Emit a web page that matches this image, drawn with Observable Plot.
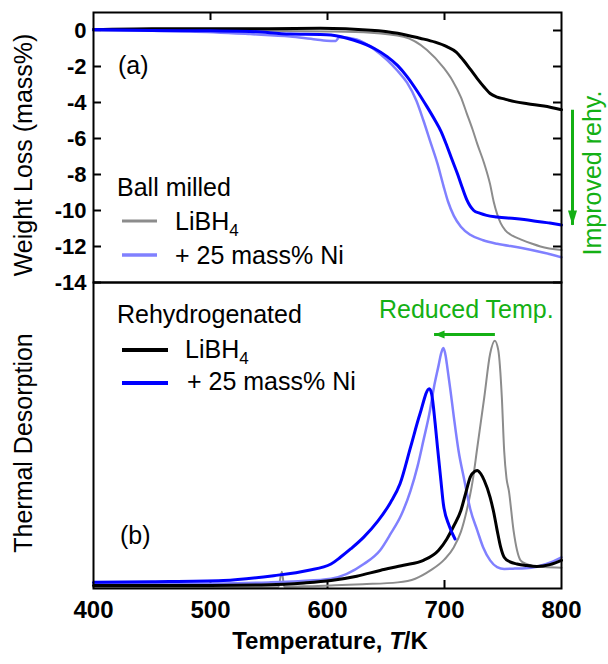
<!DOCTYPE html>
<html><head><meta charset="utf-8">
<script src="https://cdn.jsdelivr.net/npm/d3@7"></script>
<script src="https://cdn.jsdelivr.net/npm/@observablehq/plot@0.6"></script>
<style>
html,body{margin:0;padding:0;background:#fff;}
#chart{position:relative;width:608px;height:664px;background:#fff;}
#chart svg{display:block;overflow:visible;}
</style></head><body><div id="chart"></div>
<script>
const FONT = '"Liberation Sans", Arial, Helvetica, sans-serif';

// ---------- ticks / labels ----------
const xTickValues = [400, 500, 600, 700, 800];
const xInnerTicks = [500, 600, 700];
const tgTickValues = [0, -2, -4, -6, -8, -10, -12, -14];
const xTitle = ["Temperature, ", "T", "/K"];
const tgTitle = "Weight Loss (mass%)";
const tdTitle = "Thermal Desorption";
const legendA = {title: "Ball milled", items: ["LiBH", "+ 25 mass% Ni"]};
const legendB = {title: "Rehydrogenated", items: ["LiBH", "+ 25 mass% Ni"]};
const annotationTexts = {rehy: "Improved rehy.", temp: "Reduced Temp."};

// ---------- (a) TG weight loss, [T (K), mass%] ----------
const tgBallMilledLiBH4 = [[400,0],[450,0],[500,0],[550,-0.02],[600,-0.05],[637,-0.12],[665,-0.35],[685,-1.08],[699,-2.05],[707,-2.8],[714,-3.7],[719,-4.6],[724,-5.5],[728,-6.3],[734,-7.4],[739,-8.55],[742,-9.5],[745,-10.2],[748,-10.7],[752,-11.1],[758,-11.4],[765,-11.6],[775,-11.85],[782,-12.0],[800,-12.2]];
const tgBallMilledNi = [[400,0],[450,-0.02],[483,-0.05],[534,-0.2],[568,-0.33],[590,-0.5],[603,-0.58],[607,-0.58],[610,-0.38],[625,-0.5],[640,-1.05],[651,-1.64],[660,-2.25],[668,-2.9],[676,-3.9],[682,-5.0],[688,-6.2],[694,-7.4],[699,-8.6],[703,-9.5],[708,-10.3],[714,-10.9],[722,-11.35],[733,-11.65],[745,-11.85],[765,-12.07],[785,-12.35],[800,-12.6]];
const tgRehyLiBH4 = [[400,0.05],[450,0.1],[500,0.1],[550,0.1],[594,0.12],[637,0.02],[660,-0.15],[679,-0.43],[692,-0.65],[702,-0.9],[710,-1.2],[716,-1.64],[722,-2.15],[728,-2.67],[734,-3.15],[739,-3.5],[745,-3.7],[751,-3.8],[760,-3.95],[771,-4.07],[785,-4.2],[800,-4.4]];
const tgRehyNi = [[400,0.05],[450,0],[500,-0.02],[534,-0.05],[568,-0.2],[594,-0.22],[603,-0.25],[622,-0.53],[640,-1.0],[651,-1.45],[660,-1.95],[668,-2.56],[677,-3.4],[685,-4.23],[692,-5.0],[697,-5.6],[702,-6.4],[706,-7.1],[711,-7.95],[715,-8.7],[719,-9.4],[725,-10.0],[730,-10.15],[736,-10.27],[745,-10.36],[760,-10.45],[774,-10.55],[790,-10.7],[800,-10.8]];

// ---------- (b) thermal desorption, [T (K), a.u.] ----------
const tdBallMilledLiBH4 = [[400,0.3],[450,0.3],[500,0.3],[550,0.4],[558,0.5],[561,5.5],[563,0.6],[580,0.7],[603,1.0],[630,1.4],[660,2.0],[675,3.2],[688,5.9],[700,9.5],[708,13.5],[714,18.5],[719,25.5],[724,35],[728,46],[734,62.5],[739,76.7],[743,81],[746,77.8],[749,62.5],[751,45],[753,36],[755,32],[759,19],[762,12.5],[765,9.2],[770,8],[774,7.5],[785,7],[800,6.8]];
const tdBallMilledNi = [[400,1.5],[450,1.5],[500,1.6],[550,2.0],[575,2.4],[603,3.2],[631,8],[645,12.5],[654,17.9],[663,24],[671,32],[677,40],[682,48.4],[687,57],[691,65.8],[695,73],[697,76.7],[699,78.6],[701,76],[702,73.4],[705,65],[708,56],[712,45],[717,35.3],[722,26],[728,19],[733,13.5],[739,9.2],[745,7],[751,6.4],[760,6.5],[774,6.8],[787,8],[800,10.2]];
const tdRehyLiBH4 = [[400,1.0],[450,1.0],[500,1.0],[550,1.2],[580,1.8],[603,2.6],[625,4.0],[645,5.9],[665,7.6],[682,9.2],[695,12.5],[702,16.2],[708,20.5],[714,25.5],[718,31],[722,36.4],[726,38.3],[728,38.6],[731,37.5],[734,35.3],[739,29.8],[742,25],[745,19],[748,13.5],[751,10.2],[756,8.7],[762,8],[770,7.5],[779,7.2],[790,7.8],[800,9.2]];
const tdRehyNi = [[400,2],[450,2.2],[511,2.6],[554,4.2],[583,5.9],[603,8],[611,10.2],[620,13],[631,16.8],[643,22],[654,28.2],[662,34.2],[671,46.2],[679,57],[687,65.3],[689,63.6],[692,54],[694,46.2],[697,35],[699,27.7],[704,20.5],[709,16.2]];

// ---------- annotation arrows (data units) ----------
const rehyArrow = [{x: 800, y1: -4.43, y2: -10.83}];
const tempArrow = [{x1: 743.5, x2: 691.5, y: 83}];

const C = {black: "#000000", grey: "#8c8c8c", blue: "#0000ff", light: "#8080ff", green: "#14b014"};

const headV = {draw(ctx) { ctx.moveTo(0, 0); ctx.lineTo(-4.5, -15); ctx.lineTo(4.5, -15); ctx.closePath(); }};
const headH = {draw(ctx) { ctx.moveTo(0, 0); ctx.lineTo(-4, -10); ctx.lineTo(4, -10); ctx.closePath(); }};

const X = d => d[0], Y = d => d[1];
const W = 608, ML = 93, MR = 47, FS = 25;

const topPlot = Plot.plot({
  width: W, height: 282, marginTop: 12, marginBottom: 0, marginLeft: ML, marginRight: MR,
  x: {domain: [400, 800], axis: null},
  y: {domain: [-14, 1]},
  style: {fontFamily: FONT, fontSize: "24px", overflow: "visible", background: "transparent", color: "black"},
  marks: [
    Plot.axisY(tgTickValues, {tickSize: 0, tickPadding: 7, fontSize: 22, fontWeight: "bold", tickFormat: d => String(d), label: null}),
    Plot.tickX(xInnerTicks, {x: d => d, insetBottom: 262, stroke: "black", strokeWidth: 2}),
    Plot.tickY(tgTickValues, {y: d => d, insetLeft: 460, stroke: "black", strokeWidth: 2}),
    Plot.tickY(tgTickValues, {y: d => d, insetRight: 460, stroke: "black", strokeWidth: 2}),
    Plot.line(tgBallMilledLiBH4, {x: X, y: Y, stroke: C.grey, strokeWidth: 2, curve: "monotone-x"}),
    Plot.line(tgBallMilledNi, {x: X, y: Y, stroke: C.light, strokeWidth: 2.5, curve: "monotone-x"}),
    Plot.line(tgRehyLiBH4, {x: X, y: Y, stroke: C.black, strokeWidth: 3, curve: "monotone-x"}),
    Plot.line(tgRehyNi, {x: X, y: Y, stroke: C.blue, strokeWidth: 3, curve: "monotone-x"}),
    Plot.ruleX(rehyArrow, {x: "x", y1: "y1", y2: "y2", dx: 11, stroke: C.green, strokeWidth: 3}),
    Plot.dot(rehyArrow, {x: "x", y: "y2", dx: 11, symbol: headV, fill: C.green, stroke: "none", r: 5}),
    Plot.frame({stroke: "black", strokeWidth: 2})
  ]
});

const botPlot = Plot.plot({
  width: W, height: 382, marginTop: 0, marginBottom: 76, marginLeft: ML, marginRight: MR,
  x: {domain: [400, 800]},
  y: {domain: [0, 100], axis: null},
  style: {fontFamily: FONT, fontSize: "24px", overflow: "visible", background: "transparent", color: "black"},
  marks: [
    Plot.axisX(xTickValues, {tickSize: 0, tickPadding: 12, fontSize: 24, fontWeight: "bold", label: null}),
    Plot.tickX(xInnerTicks, {x: d => d, insetTop: 298, stroke: "black", strokeWidth: 2}),
    Plot.line(tdBallMilledLiBH4, {x: X, y: Y, stroke: C.grey, strokeWidth: 2, curve: "monotone-x"}),
    Plot.line(tdBallMilledNi, {x: X, y: Y, stroke: C.light, strokeWidth: 2.5, curve: "monotone-x"}),
    Plot.line(tdRehyLiBH4, {x: X, y: Y, stroke: C.black, strokeWidth: 3, curve: "monotone-x"}),
    Plot.line(tdRehyNi, {x: X, y: Y, stroke: C.blue, strokeWidth: 3, curve: "monotone-x"}),
    Plot.ruleY(tempArrow, {y: "y", x1: "x1", x2: "x2", stroke: C.green, strokeWidth: 3}),
    Plot.dot(tempArrow, {x: "x2", y: "y", symbol: headH, rotate: 90, fill: C.green, stroke: "none", r: 5}),
    Plot.frame({stroke: "black", strokeWidth: 2})
  ]
});

const chart = document.getElementById("chart");
chart.appendChild(topPlot);
chart.appendChild(botPlot);

function addText(g, x, y, txt, opts = {}) {
  const t = g.append("text").attr("x", x).attr("y", y)
    .attr("font-family", FONT).attr("font-size", opts.size || FS)
    .attr("fill", opts.fill || "black")
    .attr("text-anchor", opts.anchor || "start");
  if (opts.weight) t.attr("font-weight", opts.weight);
  if (opts.rotate) t.attr("transform", `rotate(${opts.rotate},${x},${y})`);
  if (txt != null) t.text(txt);
  return t;
}
function subText(g, x, y, base, sub) {
  const t = addText(g, x, y, null);
  t.append("tspan").text(base);
  t.append("tspan").attr("font-size", 17).attr("dy", 6).text(sub);
  return t;
}

// ---- top overlay ----
const gA = d3.select(topPlot).append("g");
addText(gA, 32, 155, tgTitle, {anchor: "middle", rotate: -90});
addText(gA, 118, 74, "(a)");
addText(gA, 117, 196, legendA.title);
gA.append("line").attr("x1", 122).attr("x2", 157).attr("y1", 221).attr("y2", 221).attr("stroke", C.grey).attr("stroke-width", 3);
subText(gA, 175, 230, legendA.items[0], "4");
gA.append("line").attr("x1", 122).attr("x2", 157).attr("y1", 255).attr("y2", 255).attr("stroke", C.light).attr("stroke-width", 3.5);
addText(gA, 175, 264, legendA.items[1]);
addText(gA, 601, 173, annotationTexts.rehy, {anchor: "middle", rotate: -90, fill: C.green});

// ---- bottom overlay ----
const gB = d3.select(botPlot).append("g");
addText(gB, 32, 161, tdTitle, {anchor: "middle", rotate: -90});
addText(gB, 117, 41, legendB.title);
gB.append("line").attr("x1", 122).attr("x2", 168).attr("y1", 68).attr("y2", 68).attr("stroke", C.black).attr("stroke-width", 4);
subText(gB, 185, 76, legendB.items[0], "4");
gB.append("line").attr("x1", 122).attr("x2", 168).attr("y1", 101).attr("y2", 101).attr("stroke", C.blue).attr("stroke-width", 4);
addText(gB, 187, 108, legendB.items[1]);
addText(gB, 120, 262, "(b)");
addText(gB, 379, 36, annotationTexts.temp, {fill: C.green});
const tt = addText(gB, 330, 367, null, {anchor: "middle", weight: "bold", size: 24});
tt.append("tspan").text(xTitle[0]);
tt.append("tspan").attr("font-style", "italic").text(xTitle[1]);
tt.append("tspan").text(xTitle[2]);
</script></body></html>
